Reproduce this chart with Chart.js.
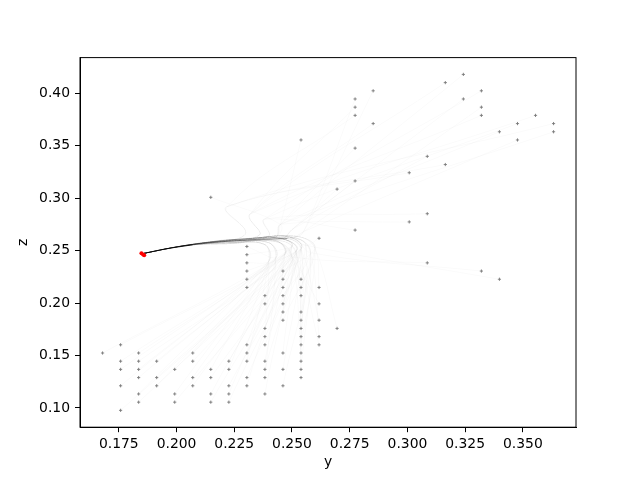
<!DOCTYPE html>
<html><head><meta charset="utf-8">
<script src="https://cdn.jsdelivr.net/npm/chart.js@4"></script>
<style>html,body{margin:0;padding:0;background:#fff}#wrap{width:640px;height:480px}</style>
</head><body><div id="wrap"><canvas id="c" width="640" height="480"></canvas></div>
<script>
// start positions (horizontal "y", vertical "z")
const startY = [
  0.16797,
  0.17578,0.17578,0.17578,0.17578,0.17578,
  0.18359,0.18359,0.18359,0.18359,0.18359,0.18359,
  0.19141,0.19141,0.19141,
  0.19922,0.19922,0.19922,
  0.20703,0.20703,0.20703,0.20703,
  0.21484,0.21484,0.21484,0.21484,0.21484,
  0.22266,0.22266,0.22266,0.22266,0.22266,
  0.23047,0.23047,0.23047,0.23047,0.23047,0.23047,0.23047,0.23047,0.23047,0.23047,0.23047,
  0.23828,0.23828,0.23828,0.23828,0.23828,0.23828,0.23828,0.23828,0.23828,
  0.24609,0.24609,0.24609,0.24609,0.24609,0.24609,0.24609,0.24609,0.24609,0.24609,
  0.25391,0.25391,0.25391,0.25391,0.25391,0.25391,0.25391,0.25391,0.25391,0.25391,0.25391,0.25391,0.25391,
  0.26172,0.26172,0.26172,0.26172,0.26172,0.26172,
  0.26953,0.26953,
  0.27734,0.27734,0.27734,0.27734,0.27734,0.27734,
  0.28516,0.28516,
  0.30078,0.30078,
  0.30859,0.30859,0.30859,
  0.31641,0.31641,
  0.32422,0.32422,
  0.33203,0.33203,0.33203,0.33203,
  0.33984,0.33984,
  0.34766,0.34766,
  0.35547,
  0.36328,0.36328
];
const startZ = [
  0.15234,
  0.16016,0.14453,0.13672,0.12109,0.09766,
  0.15234,0.14453,0.13672,0.12891,0.11328,0.10547,
  0.14453,0.12891,0.12109,
  0.13672,0.11328,0.10547,
  0.15234,0.14453,0.12891,0.12109,
  0.13672,0.12891,0.11328,0.10547,0.30078,
  0.14453,0.13672,0.12109,0.11328,0.10547,
  0.25391,0.24609,0.23828,0.23047,0.22266,0.21484,0.16016,0.15234,0.14453,0.12891,0.12109,
  0.20703,0.19922,0.17578,0.16797,0.16016,0.14453,0.13672,0.12891,0.11328,
  0.23047,0.22266,0.21484,0.20703,0.19922,0.19141,0.18359,0.15234,0.13672,0.12109,
  0.35547,0.22266,0.21484,0.20703,0.19141,0.18359,0.17578,0.16797,0.16016,0.15234,0.14453,0.13672,0.12891,
  0.26172,0.21484,0.19922,0.18359,0.16797,0.16016,
  0.30859,0.17578,
  0.39453,0.38672,0.37891,0.34766,0.31641,0.26953,
  0.40234,0.37109,
  0.32422,0.27734,
  0.33984,0.28516,0.23828,
  0.41016,0.33203,
  0.41797,0.39453,
  0.40234,0.38672,0.37891,0.23047,
  0.36328,0.22266,
  0.37109,0.35547,
  0.37891,
  0.37109,0.36328
];
// goal (red) positions
const goalY = [0.1848, 0.1855, 0.1860];
const goalZ = [0.2475, 0.2462, 0.2455];
// dark core of the converging bundle
const coreBlackY = [0.1852, 0.1950, 0.2070];
const coreBlackZ = [0.2470, 0.2515, 0.2555];
const coreGrayY  = [0.2070, 0.2200, 0.2350, 0.2480];
const coreGrayZ  = [0.2555, 0.2585, 0.2605, 0.2615];
// approach paths into the goal (several variants per region)
const pathLowLeftY = [
  [0.247, 0.243, 0.226, 0.206, 0.185],
  [0.252, 0.246, 0.228, 0.208, 0.185],
  [0.243, 0.240, 0.224, 0.204, 0.185],
  [0.250, 0.244, 0.230, 0.207, 0.185],
  [0.240, 0.238, 0.222, 0.203, 0.185],
  [0.254, 0.249, 0.233, 0.209, 0.185]
];
const pathLowLeftZ = [
  [0.247, 0.2595, 0.2590, 0.2555, 0.247],
  [0.250, 0.2610, 0.2600, 0.2562, 0.247],
  [0.243, 0.2575, 0.2575, 0.2548, 0.247],
  [0.254, 0.2620, 0.2612, 0.2560, 0.247],
  [0.240, 0.2560, 0.2565, 0.2545, 0.247],
  [0.252, 0.2628, 0.2618, 0.2566, 0.247]
];
const pathLowMidY = [
  [0.254, 0.248, 0.229, 0.206, 0.185],
  [0.258, 0.251, 0.232, 0.208, 0.185],
  [0.252, 0.246, 0.226, 0.205, 0.185],
  [0.256, 0.249, 0.230, 0.207, 0.185],
  [0.260, 0.253, 0.235, 0.209, 0.185],
  [0.250, 0.244, 0.225, 0.204, 0.185]
];
const pathLowMidZ = [
  [0.251, 0.2615, 0.2605, 0.2557, 0.247],
  [0.248, 0.2625, 0.2615, 0.2564, 0.247],
  [0.246, 0.2590, 0.2585, 0.2552, 0.247],
  [0.255, 0.2620, 0.2600, 0.2559, 0.247],
  [0.252, 0.2632, 0.2622, 0.2568, 0.247],
  [0.244, 0.2580, 0.2578, 0.2549, 0.247]
];
const pathUpperY = [
  [0.232, 0.236, 0.220, 0.205, 0.185],
  [0.222, 0.230, 0.225, 0.206, 0.185],
  [0.245, 0.243, 0.222, 0.205, 0.185],
  [0.250, 0.246, 0.228, 0.207, 0.185],
  [0.238, 0.240, 0.224, 0.204, 0.185],
  [0.255, 0.250, 0.232, 0.208, 0.185]
];
const pathUpperZ = [
  [0.285, 0.2650, 0.2600, 0.2555, 0.247],
  [0.292, 0.2680, 0.2605, 0.2558, 0.247],
  [0.275, 0.2630, 0.2590, 0.2553, 0.247],
  [0.270, 0.2615, 0.2595, 0.2560, 0.247],
  [0.280, 0.2640, 0.2598, 0.2550, 0.247],
  [0.268, 0.2625, 0.2610, 0.2563, 0.247]
];
// tick labels
const yTicks = [0.175, 0.200, 0.225, 0.250, 0.275, 0.300, 0.325, 0.350];
const zTicks = [0.10, 0.15, 0.20, 0.25, 0.30, 0.35, 0.40];
const yRange = [0.1582, 0.3730];
const zRange = [0.0816, 0.4340];

const toPts = (xs, zs) => xs.map((v, i) => ({x: v, y: zs[i]}));
const datasets = [];
datasets.push({
  label: 'starts', data: toPts(startY, startZ), showLine: false,
  pointStyle: 'cross', pointRadius: 1.6, pointBorderWidth: 0.9,
  pointBorderColor: 'rgb(120,120,120)', pointBackgroundColor: 'rgb(120,120,120)', order: 0
});
datasets.push({
  label: 'goal', data: toPts(goalY, goalZ), showLine: false,
  pointStyle: 'circle', pointRadius: 2, pointBorderWidth: 0,
  pointBackgroundColor: 'rgb(255,0,0)', order: 1
});
datasets.push({
  label: 'coreBlack', data: toPts(coreBlackY, coreBlackZ), showLine: true,
  pointRadius: 0, borderWidth: 1, borderColor: 'rgba(0,0,0,0.85)', tension: 0.3, order: 2
});
datasets.push({
  label: 'coreGray', data: toPts(coreGrayY, coreGrayZ), showLine: true,
  pointRadius: 0, borderWidth: 1, borderColor: 'rgba(0,0,0,0.3)', tension: 0.3, order: 3
});
startY.forEach((y0, k) => {
  const z0 = startZ[k];
  const v = k % 6;
  let py, pz;
  if (z0 > 0.265) { py = pathUpperY[v]; pz = pathUpperZ[v]; }
  else if (y0 < 0.24) { py = pathLowLeftY[v]; pz = pathLowLeftZ[v]; }
  else { py = pathLowMidY[v]; pz = pathLowMidZ[v]; }
  datasets.push({
    label: 'traj' + k,
    data: [{x: y0, y: z0}].concat(toPts(py, pz)),
    showLine: true, pointRadius: 0, borderWidth: 0.5,
    borderColor: 'rgba(0,0,0,0.04)', tension: 0.4, fill: false, order: 5
  });
});

Chart.defaults.color = '#000';
Chart.defaults.font.family = 'DejaVu Sans';
Chart.defaults.font.size = 13.9;

const frame = {
  id: 'frame',
  afterDraw(chart) {
    const a = chart.chartArea, ctx = chart.ctx;
    ctx.save();
    ctx.strokeStyle = '#000'; ctx.lineWidth = 1;
    ctx.strokeRect(a.left, a.top, a.right - a.left, a.bottom - a.top);
    ctx.restore();
  }
};

new Chart(document.getElementById('c'), {
  type: 'line',
  data: {datasets},
  plugins: [frame],
  options: {
    responsive: false, animation: false, devicePixelRatio: 1,
    layout: {padding: {left: 0, right: 64, top: 57.6, bottom: 0}},
    plugins: {legend: {display: false}, tooltip: {enabled: false}},
    scales: {
      x: {
        type: 'linear', min: yRange[0], max: yRange[1],
        afterBuildTicks: s => { s.ticks = yTicks.map(v => ({value: v})); },
        afterFit: s => { s.height = 52.8; },
        ticks: {callback: v => v.toFixed(3), padding: 4, maxRotation: 0, autoSkip: false},
        grid: {drawOnChartArea: false, drawTicks: true, tickLength: 5, tickColor: '#000', tickWidth: 1},
        border: {display: true, color: '#000', width: 1},
        title: {display: true, text: 'y', padding: {top: 0, bottom: 9}}
      },
      y: {
        type: 'linear', min: zRange[0], max: zRange[1],
        afterBuildTicks: s => { s.ticks = zTicks.map(v => ({value: v})); },
        afterFit: s => { s.width = 80; },
        ticks: {callback: v => v.toFixed(2), padding: 5, autoSkip: false},
        grid: {drawOnChartArea: false, drawTicks: true, tickLength: 5, tickColor: '#000', tickWidth: 1},
        border: {display: true, color: '#000', width: 1},
        title: {display: true, text: 'z', padding: {top: 15, bottom: 0}}
      }
    }
  }
});
</script>
</body></html>
